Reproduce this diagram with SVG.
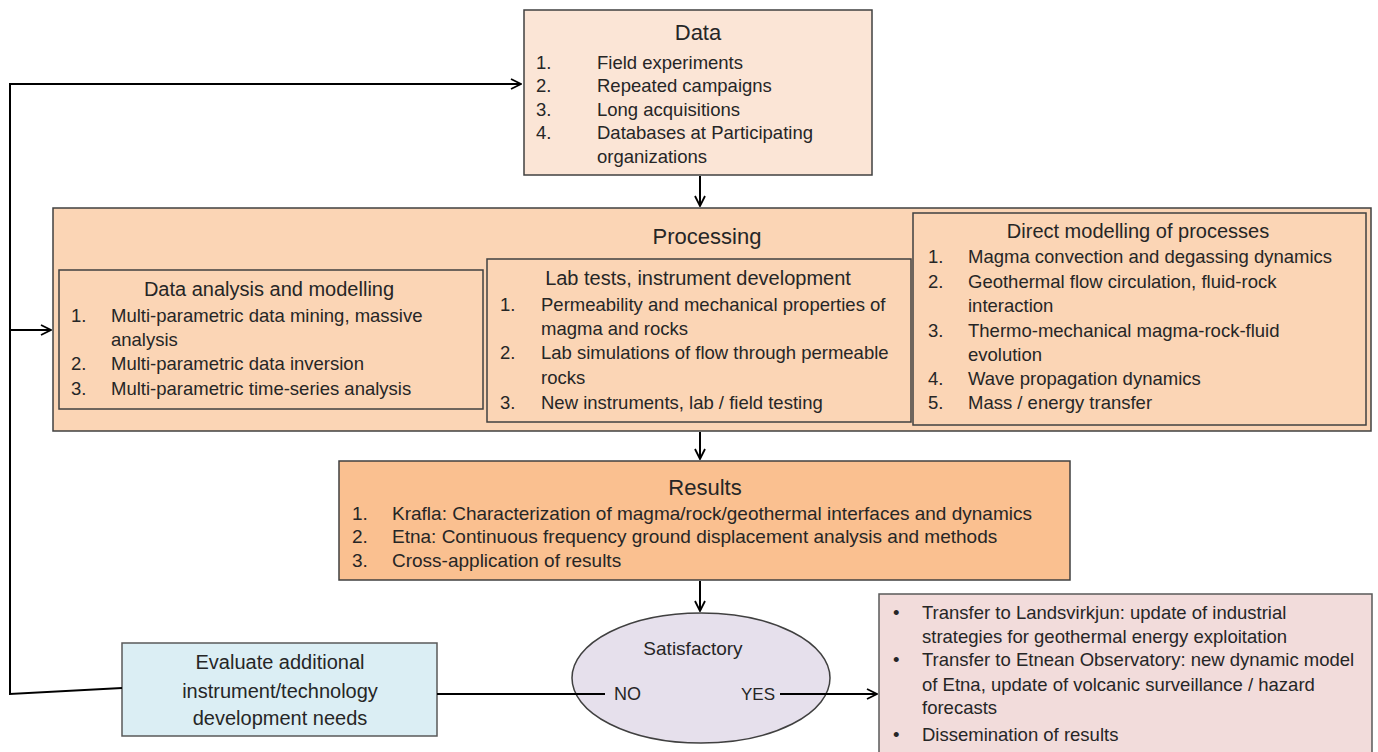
<svg xmlns="http://www.w3.org/2000/svg" width="1378" height="752" viewBox="0 0 1378 752">
<style>
.t{font-family:"Liberation Sans",Arial,sans-serif;fill:#262626}
.it{font-size:18.5px}
.rs{font-size:19px}
.sub{font-size:20px;text-anchor:middle}
.ttl{font-size:22px;text-anchor:middle}
.mid{text-anchor:middle}
.box{stroke:#404040;stroke-width:1.5}
.conn{stroke:#000;stroke-width:2;fill:none}
</style>
<defs>
<marker id="ah" viewBox="0 0 12 12" refX="11" refY="6" markerWidth="12" markerHeight="12" markerUnits="userSpaceOnUse" orient="auto">
<path d="M1,1 L11,6 L1,11" fill="none" stroke="#000" stroke-width="1.8"/>
</marker>
</defs>
<rect width="1378" height="752" fill="#ffffff"/>

<g id="data">
<rect class="box" x="524" y="10" width="348" height="165" fill="#fbe5d6"/>
<text class="t ttl" x="698" y="40">Data</text>
<g class="t it">
<text x="536" y="69">1.</text><text x="597" y="69">Field experiments</text>
<text x="536" y="92">2.</text><text x="597" y="92">Repeated campaigns</text>
<text x="536" y="116">3.</text><text x="597" y="116">Long acquisitions</text>
<text x="536" y="139">4.</text><text x="597" y="139">Databases at Participating</text>
<text x="597" y="163">organizations</text>
</g>
</g>

<g id="processing">
<rect class="box" x="53" y="208" width="1318" height="223" fill="#fbd5b5"/>
<text class="t ttl" x="707" y="244">Processing</text>
</g>

<g id="data-analysis">
<rect class="box" x="59" y="270" width="424" height="139" fill="#fbd5b5"/>
<text class="t sub" x="269" y="296">Data analysis and modelling</text>
<g class="t it">
<text x="71" y="322">1.</text><text x="111" y="322">Multi-parametric data mining, massive</text>
<text x="111" y="346">analysis</text>
<text x="71" y="370">2.</text><text x="111" y="370">Multi-parametric data inversion</text>
<text x="71" y="395">3.</text><text x="111" y="395">Multi-parametric time-series analysis</text>
</g>
</g>

<g id="lab-tests">
<rect class="box" x="487" y="259" width="424" height="163" fill="#fbd5b5"/>
<text class="t sub" x="698" y="285">Lab tests, instrument development</text>
<g class="t it">
<text x="500" y="311">1.</text><text x="541" y="311">Permeability and mechanical properties of</text>
<text x="541" y="335">magma and rocks</text>
<text x="500" y="359">2.</text><text x="541" y="359">Lab simulations of flow through permeable</text>
<text x="541" y="384">rocks</text>
<text x="500" y="409">3.</text><text x="541" y="409">New instruments, lab / field testing</text>
</g>
</g>

<g id="direct-modelling">
<rect class="box" x="913" y="213" width="453" height="212" fill="#fbd5b5"/>
<text class="t sub" x="1138" y="238">Direct modelling of processes</text>
<g class="t it">
<text x="928" y="263">1.</text><text x="968" y="263">Magma convection and degassing dynamics</text>
<text x="928" y="288">2.</text><text x="968" y="288">Geothermal flow circulation, fluid-rock</text>
<text x="968" y="312">interaction</text>
<text x="928" y="337">3.</text><text x="968" y="337">Thermo-mechanical magma-rock-fluid</text>
<text x="968" y="361">evolution</text>
<text x="928" y="385">4.</text><text x="968" y="385">Wave propagation dynamics</text>
<text x="928" y="409">5.</text><text x="968" y="409">Mass / energy transfer</text>
</g>
</g>

<g id="results">
<rect class="box" x="339" y="461" width="731" height="119" fill="#fac090"/>
<text class="t ttl" x="705" y="495">Results</text>
<g class="t rs">
<text x="352" y="520">1.</text><text x="392" y="520">Krafla: Characterization of magma/rock/geothermal interfaces and dynamics</text>
<text x="352" y="543">2.</text><text x="392" y="543">Etna: Continuous frequency ground displacement analysis and methods</text>
<text x="352" y="567">3.</text><text x="392" y="567">Cross-application of results</text>
</g>
</g>

<g id="satisfactory">
<ellipse class="box" cx="701" cy="678" rx="129" ry="65" fill="#e6e0ec"/>
<text class="t mid" x="693" y="655" style="font-size:19px">Satisfactory</text>
<text class="t" x="614" y="700" style="font-size:18px">NO</text>
<text class="t" x="741" y="700" style="font-size:17px">YES</text>
</g>

<g id="evaluate">
<rect class="box" x="122" y="643" width="315" height="93" fill="#dbeef4" style="stroke:#595959"/>
<g class="t mid" style="font-size:20px">
<text x="280" y="669">Evaluate additional</text>
<text x="280" y="698">instrument/technology</text>
<text x="280" y="725">development needs</text>
</g>
</g>

<g id="transfer">
<rect class="box" x="879" y="594" width="493" height="170" fill="#f2dcdb" style="stroke:#595959"/>
<g class="t it">
<text x="893" y="619">•</text><text x="922" y="619">Transfer to Landsvirkjun: update of industrial</text>
<text x="922" y="643">strategies for geothermal energy exploitation</text>
<text x="893" y="666">•</text><text x="922" y="666">Transfer to Etnean Observatory: new dynamic model</text>
<text x="922" y="691">of Etna, update of volcanic surveillance / hazard</text>
<text x="922" y="714">forecasts</text>
<text x="893" y="741">•</text><text x="922" y="741">Dissemination of results</text>
</g>
</g>

<g id="connectors">
<polyline class="conn" points="122,688 10,694 10,84 521,84" marker-end="url(#ah)"/>
<line class="conn" x1="10" y1="330" x2="51" y2="330" marker-end="url(#ah)"/>
<line class="conn" x1="700" y1="176" x2="700" y2="206" marker-end="url(#ah)"/>
<line class="conn" x1="700" y1="432" x2="700" y2="459" marker-end="url(#ah)"/>
<line class="conn" x1="700" y1="581" x2="700" y2="611" marker-end="url(#ah)"/>
<line class="conn" x1="437" y1="694" x2="605" y2="694"/>
<line class="conn" x1="780" y1="694" x2="877" y2="694" marker-end="url(#ah)"/>
</g>
</svg>
